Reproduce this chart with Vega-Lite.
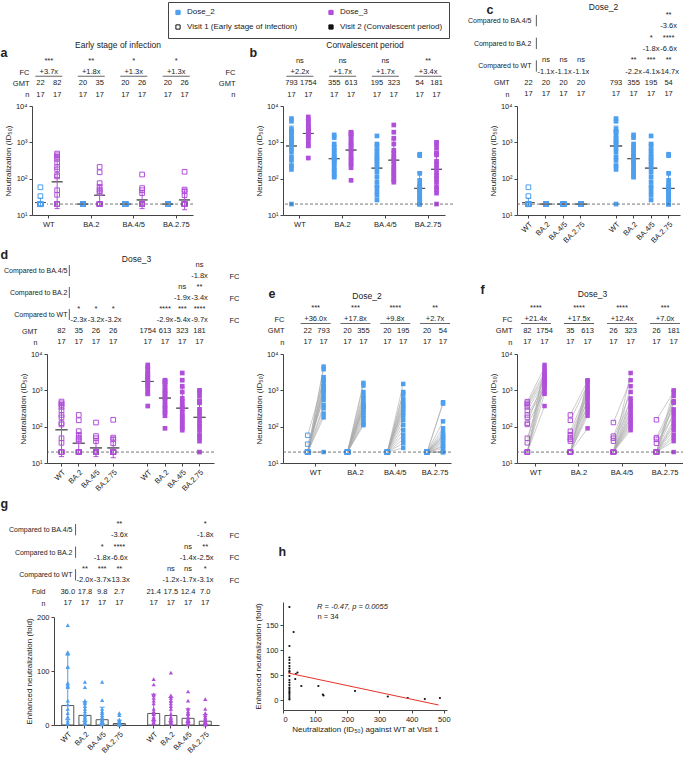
{
"$schema":"https://vega.github.io/schema/vega-lite/v6.json",
"background":"white",
"padding":{"left":0,"top":1,"right":0,"bottom":0},
"config":{
 "font":"Liberation Sans",
 "view":{"stroke":null},
 "axis":{"labelFontSize":7.5,"titleFontSize":8,"titleFontWeight":"normal","labelColor":"#222","titleColor":"#222","domainColor":"#444","tickColor":"#444","tickSize":3,"labelPadding":2,"titlePadding":3,"grid":false},
 "title":{"fontSize":8.5,"fontWeight":"normal","color":"#222"},
 "text":{"fontSize":7.5,"color":"#222"},
 "legend":{"labelFontSize":8,"labelColor":"#222"}
},
"datasets":{
"leg":[{"lg":"Dose_2"}],
"gmt":[
{"d":2,"v":1,"g":"WT","k":"1 WT","m":22,"lo":17,"hi":29},
{"d":2,"v":1,"g":"BA.2","k":"1 BA.2","m":20,"lo":20,"hi":20},
{"d":2,"v":1,"g":"BA.4/5","k":"1 BA.4/5","m":20,"lo":20,"hi":20},
{"d":2,"v":1,"g":"BA.2.75","k":"1 BA.2.75","m":20,"lo":20,"hi":20},
{"d":2,"v":2,"g":"WT","k":"2 WT","m":793,"lo":225,"hi":2800},
{"d":2,"v":2,"g":"BA.2","k":"2 BA.2","m":355,"lo":160,"hi":800},
{"d":2,"v":2,"g":"BA.4/5","k":"2 BA.4/5","m":195,"lo":60,"hi":630},
{"d":2,"v":2,"g":"BA.2.75","k":"2 BA.2.75","m":54,"lo":20,"hi":150},
{"d":3,"v":1,"g":"WT","k":"1 WT","m":82,"lo":15,"hi":450},
{"d":3,"v":1,"g":"BA.2","k":"1 BA.2","m":35,"lo":18,"hi":66},
{"d":3,"v":1,"g":"BA.4/5","k":"1 BA.4/5","m":26,"lo":15,"hi":48},
{"d":3,"v":1,"g":"BA.2.75","k":"1 BA.2.75","m":26,"lo":14,"hi":50},
{"d":3,"v":2,"g":"WT","k":"2 WT","m":1754,"lo":730,"hi":4200},
{"d":3,"v":2,"g":"BA.2","k":"2 BA.2","m":613,"lo":250,"hi":1500},
{"d":3,"v":2,"g":"BA.4/5","k":"2 BA.4/5","m":323,"lo":90,"hi":1170},
{"d":3,"v":2,"g":"BA.2.75","k":"2 BA.2.75","m":181,"lo":56,"hi":580}
],
"neut":[
{"d":2,"v":1,"g":"WT","k":"1 WT","i":1,"y":20},{"d":2,"v":1,"g":"WT","k":"1 WT","i":2,"y":20},{"d":2,"v":1,"g":"WT","k":"1 WT","i":3,"y":20},{"d":2,"v":1,"g":"WT","k":"1 WT","i":4,"y":20},{"d":2,"v":1,"g":"WT","k":"1 WT","i":5,"y":58},{"d":2,"v":1,"g":"WT","k":"1 WT","i":6,"y":20},{"d":2,"v":1,"g":"WT","k":"1 WT","i":7,"y":20},{"d":2,"v":1,"g":"WT","k":"1 WT","i":8,"y":20},{"d":2,"v":1,"g":"WT","k":"1 WT","i":9,"y":20},{"d":2,"v":1,"g":"WT","k":"1 WT","i":10,"y":20},{"d":2,"v":1,"g":"WT","k":"1 WT","i":11,"y":20},{"d":2,"v":1,"g":"WT","k":"1 WT","i":12,"y":33},{"d":2,"v":1,"g":"WT","k":"1 WT","i":13,"y":20},{"d":2,"v":1,"g":"WT","k":"1 WT","i":14,"y":20},{"d":2,"v":1,"g":"WT","k":"1 WT","i":15,"y":20},{"d":2,"v":1,"g":"WT","k":"1 WT","i":16,"y":20},{"d":2,"v":1,"g":"WT","k":"1 WT","i":17,"y":20},
{"d":2,"v":1,"g":"BA.2","k":"1 BA.2","i":1,"y":20},{"d":2,"v":1,"g":"BA.2","k":"1 BA.2","i":2,"y":20},{"d":2,"v":1,"g":"BA.2","k":"1 BA.2","i":3,"y":20},{"d":2,"v":1,"g":"BA.2","k":"1 BA.2","i":4,"y":20},{"d":2,"v":1,"g":"BA.2","k":"1 BA.2","i":5,"y":20},{"d":2,"v":1,"g":"BA.2","k":"1 BA.2","i":6,"y":20},{"d":2,"v":1,"g":"BA.2","k":"1 BA.2","i":7,"y":20},{"d":2,"v":1,"g":"BA.2","k":"1 BA.2","i":8,"y":20},{"d":2,"v":1,"g":"BA.2","k":"1 BA.2","i":9,"y":20},{"d":2,"v":1,"g":"BA.2","k":"1 BA.2","i":10,"y":20},{"d":2,"v":1,"g":"BA.2","k":"1 BA.2","i":11,"y":20},{"d":2,"v":1,"g":"BA.2","k":"1 BA.2","i":12,"y":20},{"d":2,"v":1,"g":"BA.2","k":"1 BA.2","i":13,"y":20},{"d":2,"v":1,"g":"BA.2","k":"1 BA.2","i":14,"y":20},{"d":2,"v":1,"g":"BA.2","k":"1 BA.2","i":15,"y":20},{"d":2,"v":1,"g":"BA.2","k":"1 BA.2","i":16,"y":20},{"d":2,"v":1,"g":"BA.2","k":"1 BA.2","i":17,"y":20},
{"d":2,"v":1,"g":"BA.4/5","k":"1 BA.4/5","i":1,"y":20},{"d":2,"v":1,"g":"BA.4/5","k":"1 BA.4/5","i":2,"y":20},{"d":2,"v":1,"g":"BA.4/5","k":"1 BA.4/5","i":3,"y":20},{"d":2,"v":1,"g":"BA.4/5","k":"1 BA.4/5","i":4,"y":20},{"d":2,"v":1,"g":"BA.4/5","k":"1 BA.4/5","i":5,"y":20},{"d":2,"v":1,"g":"BA.4/5","k":"1 BA.4/5","i":6,"y":20},{"d":2,"v":1,"g":"BA.4/5","k":"1 BA.4/5","i":7,"y":20},{"d":2,"v":1,"g":"BA.4/5","k":"1 BA.4/5","i":8,"y":20},{"d":2,"v":1,"g":"BA.4/5","k":"1 BA.4/5","i":9,"y":20},{"d":2,"v":1,"g":"BA.4/5","k":"1 BA.4/5","i":10,"y":20},{"d":2,"v":1,"g":"BA.4/5","k":"1 BA.4/5","i":11,"y":20},{"d":2,"v":1,"g":"BA.4/5","k":"1 BA.4/5","i":12,"y":20},{"d":2,"v":1,"g":"BA.4/5","k":"1 BA.4/5","i":13,"y":20},{"d":2,"v":1,"g":"BA.4/5","k":"1 BA.4/5","i":14,"y":20},{"d":2,"v":1,"g":"BA.4/5","k":"1 BA.4/5","i":15,"y":20},{"d":2,"v":1,"g":"BA.4/5","k":"1 BA.4/5","i":16,"y":20},{"d":2,"v":1,"g":"BA.4/5","k":"1 BA.4/5","i":17,"y":20},
{"d":2,"v":1,"g":"BA.2.75","k":"1 BA.2.75","i":1,"y":20},{"d":2,"v":1,"g":"BA.2.75","k":"1 BA.2.75","i":2,"y":20},{"d":2,"v":1,"g":"BA.2.75","k":"1 BA.2.75","i":3,"y":20},{"d":2,"v":1,"g":"BA.2.75","k":"1 BA.2.75","i":4,"y":20},{"d":2,"v":1,"g":"BA.2.75","k":"1 BA.2.75","i":5,"y":20},{"d":2,"v":1,"g":"BA.2.75","k":"1 BA.2.75","i":6,"y":20},{"d":2,"v":1,"g":"BA.2.75","k":"1 BA.2.75","i":7,"y":20},{"d":2,"v":1,"g":"BA.2.75","k":"1 BA.2.75","i":8,"y":20},{"d":2,"v":1,"g":"BA.2.75","k":"1 BA.2.75","i":9,"y":20},{"d":2,"v":1,"g":"BA.2.75","k":"1 BA.2.75","i":10,"y":20},{"d":2,"v":1,"g":"BA.2.75","k":"1 BA.2.75","i":11,"y":20},{"d":2,"v":1,"g":"BA.2.75","k":"1 BA.2.75","i":12,"y":20},{"d":2,"v":1,"g":"BA.2.75","k":"1 BA.2.75","i":13,"y":20},{"d":2,"v":1,"g":"BA.2.75","k":"1 BA.2.75","i":14,"y":20},{"d":2,"v":1,"g":"BA.2.75","k":"1 BA.2.75","i":15,"y":20},{"d":2,"v":1,"g":"BA.2.75","k":"1 BA.2.75","i":16,"y":20},{"d":2,"v":1,"g":"BA.2.75","k":"1 BA.2.75","i":17,"y":20},
{"d":2,"v":2,"g":"WT","k":"2 WT","i":1,"y":4500},{"d":2,"v":2,"g":"WT","k":"2 WT","i":2,"y":3800},{"d":2,"v":2,"g":"WT","k":"2 WT","i":3,"y":2300},{"d":2,"v":2,"g":"WT","k":"2 WT","i":4,"y":2000},{"d":2,"v":2,"g":"WT","k":"2 WT","i":5,"y":1900},{"d":2,"v":2,"g":"WT","k":"2 WT","i":6,"y":1500},{"d":2,"v":2,"g":"WT","k":"2 WT","i":7,"y":1300},{"d":2,"v":2,"g":"WT","k":"2 WT","i":8,"y":1100},{"d":2,"v":2,"g":"WT","k":"2 WT","i":9,"y":1000},{"d":2,"v":2,"g":"WT","k":"2 WT","i":10,"y":900},{"d":2,"v":2,"g":"WT","k":"2 WT","i":11,"y":700},{"d":2,"v":2,"g":"WT","k":"2 WT","i":12,"y":550},{"d":2,"v":2,"g":"WT","k":"2 WT","i":13,"y":400},{"d":2,"v":2,"g":"WT","k":"2 WT","i":14,"y":320},{"d":2,"v":2,"g":"WT","k":"2 WT","i":15,"y":230},{"d":2,"v":2,"g":"WT","k":"2 WT","i":16,"y":180},{"d":2,"v":2,"g":"WT","k":"2 WT","i":17,"y":20},
{"d":2,"v":2,"g":"BA.2","k":"2 BA.2","i":1,"y":1600},{"d":2,"v":2,"g":"BA.2","k":"2 BA.2","i":2,"y":1350},{"d":2,"v":2,"g":"BA.2","k":"2 BA.2","i":3,"y":900},{"d":2,"v":2,"g":"BA.2","k":"2 BA.2","i":4,"y":700},{"d":2,"v":2,"g":"BA.2","k":"2 BA.2","i":5,"y":600},{"d":2,"v":2,"g":"BA.2","k":"2 BA.2","i":6,"y":500},{"d":2,"v":2,"g":"BA.2","k":"2 BA.2","i":7,"y":420},{"d":2,"v":2,"g":"BA.2","k":"2 BA.2","i":8,"y":380},{"d":2,"v":2,"g":"BA.2","k":"2 BA.2","i":9,"y":350},{"d":2,"v":2,"g":"BA.2","k":"2 BA.2","i":10,"y":320},{"d":2,"v":2,"g":"BA.2","k":"2 BA.2","i":11,"y":280},{"d":2,"v":2,"g":"BA.2","k":"2 BA.2","i":12,"y":240},{"d":2,"v":2,"g":"BA.2","k":"2 BA.2","i":13,"y":200},{"d":2,"v":2,"g":"BA.2","k":"2 BA.2","i":14,"y":170},{"d":2,"v":2,"g":"BA.2","k":"2 BA.2","i":15,"y":140},{"d":2,"v":2,"g":"BA.2","k":"2 BA.2","i":16,"y":120},{"d":2,"v":2,"g":"BA.2","k":"2 BA.2","i":17,"y":110},
{"d":2,"v":2,"g":"BA.4/5","k":"2 BA.4/5","i":1,"y":1500},{"d":2,"v":2,"g":"BA.4/5","k":"2 BA.4/5","i":2,"y":900},{"d":2,"v":2,"g":"BA.4/5","k":"2 BA.4/5","i":3,"y":800},{"d":2,"v":2,"g":"BA.4/5","k":"2 BA.4/5","i":4,"y":600},{"d":2,"v":2,"g":"BA.4/5","k":"2 BA.4/5","i":5,"y":480},{"d":2,"v":2,"g":"BA.4/5","k":"2 BA.4/5","i":6,"y":400},{"d":2,"v":2,"g":"BA.4/5","k":"2 BA.4/5","i":7,"y":350},{"d":2,"v":2,"g":"BA.4/5","k":"2 BA.4/5","i":8,"y":300},{"d":2,"v":2,"g":"BA.4/5","k":"2 BA.4/5","i":9,"y":250},{"d":2,"v":2,"g":"BA.4/5","k":"2 BA.4/5","i":10,"y":200},{"d":2,"v":2,"g":"BA.4/5","k":"2 BA.4/5","i":11,"y":150},{"d":2,"v":2,"g":"BA.4/5","k":"2 BA.4/5","i":12,"y":110},{"d":2,"v":2,"g":"BA.4/5","k":"2 BA.4/5","i":13,"y":80},{"d":2,"v":2,"g":"BA.4/5","k":"2 BA.4/5","i":14,"y":60},{"d":2,"v":2,"g":"BA.4/5","k":"2 BA.4/5","i":15,"y":45},{"d":2,"v":2,"g":"BA.4/5","k":"2 BA.4/5","i":16,"y":35},{"d":2,"v":2,"g":"BA.4/5","k":"2 BA.4/5","i":17,"y":26},
{"d":2,"v":2,"g":"BA.2.75","k":"2 BA.2.75","i":1,"y":470},{"d":2,"v":2,"g":"BA.2.75","k":"2 BA.2.75","i":2,"y":430},{"d":2,"v":2,"g":"BA.2.75","k":"2 BA.2.75","i":3,"y":140},{"d":2,"v":2,"g":"BA.2.75","k":"2 BA.2.75","i":4,"y":90},{"d":2,"v":2,"g":"BA.2.75","k":"2 BA.2.75","i":5,"y":70},{"d":2,"v":2,"g":"BA.2.75","k":"2 BA.2.75","i":6,"y":60},{"d":2,"v":2,"g":"BA.2.75","k":"2 BA.2.75","i":7,"y":55},{"d":2,"v":2,"g":"BA.2.75","k":"2 BA.2.75","i":8,"y":50},{"d":2,"v":2,"g":"BA.2.75","k":"2 BA.2.75","i":9,"y":45},{"d":2,"v":2,"g":"BA.2.75","k":"2 BA.2.75","i":10,"y":40},{"d":2,"v":2,"g":"BA.2.75","k":"2 BA.2.75","i":11,"y":35},{"d":2,"v":2,"g":"BA.2.75","k":"2 BA.2.75","i":12,"y":30},{"d":2,"v":2,"g":"BA.2.75","k":"2 BA.2.75","i":13,"y":28},{"d":2,"v":2,"g":"BA.2.75","k":"2 BA.2.75","i":14,"y":25},{"d":2,"v":2,"g":"BA.2.75","k":"2 BA.2.75","i":15,"y":20},{"d":2,"v":2,"g":"BA.2.75","k":"2 BA.2.75","i":16,"y":20},{"d":2,"v":2,"g":"BA.2.75","k":"2 BA.2.75","i":17,"y":20},
{"d":3,"v":1,"g":"WT","k":"1 WT","i":1,"y":20},{"d":3,"v":1,"g":"WT","k":"1 WT","i":2,"y":490},{"d":3,"v":1,"g":"WT","k":"1 WT","i":3,"y":36},{"d":3,"v":1,"g":"WT","k":"1 WT","i":4,"y":440},{"d":3,"v":1,"g":"WT","k":"1 WT","i":5,"y":20},{"d":3,"v":1,"g":"WT","k":"1 WT","i":6,"y":400},{"d":3,"v":1,"g":"WT","k":"1 WT","i":7,"y":125},{"d":3,"v":1,"g":"WT","k":"1 WT","i":8,"y":350},{"d":3,"v":1,"g":"WT","k":"1 WT","i":9,"y":20},{"d":3,"v":1,"g":"WT","k":"1 WT","i":10,"y":280},{"d":3,"v":1,"g":"WT","k":"1 WT","i":11,"y":48},{"d":3,"v":1,"g":"WT","k":"1 WT","i":12,"y":210},{"d":3,"v":1,"g":"WT","k":"1 WT","i":13,"y":20},{"d":3,"v":1,"g":"WT","k":"1 WT","i":14,"y":180},{"d":3,"v":1,"g":"WT","k":"1 WT","i":15,"y":115},{"d":3,"v":1,"g":"WT","k":"1 WT","i":16,"y":20},{"d":3,"v":1,"g":"WT","k":"1 WT","i":17,"y":20},
{"d":3,"v":1,"g":"BA.2","k":"1 BA.2","i":1,"y":20},{"d":3,"v":1,"g":"BA.2","k":"1 BA.2","i":2,"y":210},{"d":3,"v":1,"g":"BA.2","k":"1 BA.2","i":3,"y":20},{"d":3,"v":1,"g":"BA.2","k":"1 BA.2","i":4,"y":150},{"d":3,"v":1,"g":"BA.2","k":"1 BA.2","i":5,"y":20},{"d":3,"v":1,"g":"BA.2","k":"1 BA.2","i":6,"y":75},{"d":3,"v":1,"g":"BA.2","k":"1 BA.2","i":7,"y":20},{"d":3,"v":1,"g":"BA.2","k":"1 BA.2","i":8,"y":60},{"d":3,"v":1,"g":"BA.2","k":"1 BA.2","i":9,"y":50},{"d":3,"v":1,"g":"BA.2","k":"1 BA.2","i":10,"y":20},{"d":3,"v":1,"g":"BA.2","k":"1 BA.2","i":11,"y":45},{"d":3,"v":1,"g":"BA.2","k":"1 BA.2","i":12,"y":20},{"d":3,"v":1,"g":"BA.2","k":"1 BA.2","i":13,"y":40},{"d":3,"v":1,"g":"BA.2","k":"1 BA.2","i":14,"y":20},{"d":3,"v":1,"g":"BA.2","k":"1 BA.2","i":15,"y":20},{"d":3,"v":1,"g":"BA.2","k":"1 BA.2","i":16,"y":20},{"d":3,"v":1,"g":"BA.2","k":"1 BA.2","i":17,"y":20},
{"d":3,"v":1,"g":"BA.4/5","k":"1 BA.4/5","i":1,"y":20},{"d":3,"v":1,"g":"BA.4/5","k":"1 BA.4/5","i":2,"y":130},{"d":3,"v":1,"g":"BA.4/5","k":"1 BA.4/5","i":3,"y":20},{"d":3,"v":1,"g":"BA.4/5","k":"1 BA.4/5","i":4,"y":55},{"d":3,"v":1,"g":"BA.4/5","k":"1 BA.4/5","i":5,"y":20},{"d":3,"v":1,"g":"BA.4/5","k":"1 BA.4/5","i":6,"y":48},{"d":3,"v":1,"g":"BA.4/5","k":"1 BA.4/5","i":7,"y":20},{"d":3,"v":1,"g":"BA.4/5","k":"1 BA.4/5","i":8,"y":40},{"d":3,"v":1,"g":"BA.4/5","k":"1 BA.4/5","i":9,"y":20},{"d":3,"v":1,"g":"BA.4/5","k":"1 BA.4/5","i":10,"y":20},{"d":3,"v":1,"g":"BA.4/5","k":"1 BA.4/5","i":11,"y":20},{"d":3,"v":1,"g":"BA.4/5","k":"1 BA.4/5","i":12,"y":20},{"d":3,"v":1,"g":"BA.4/5","k":"1 BA.4/5","i":13,"y":20},{"d":3,"v":1,"g":"BA.4/5","k":"1 BA.4/5","i":14,"y":20},{"d":3,"v":1,"g":"BA.4/5","k":"1 BA.4/5","i":15,"y":20},{"d":3,"v":1,"g":"BA.4/5","k":"1 BA.4/5","i":16,"y":20},{"d":3,"v":1,"g":"BA.4/5","k":"1 BA.4/5","i":17,"y":20},
{"d":3,"v":1,"g":"BA.2.75","k":"1 BA.2.75","i":1,"y":20},{"d":3,"v":1,"g":"BA.2.75","k":"1 BA.2.75","i":2,"y":155},{"d":3,"v":1,"g":"BA.2.75","k":"1 BA.2.75","i":3,"y":20},{"d":3,"v":1,"g":"BA.2.75","k":"1 BA.2.75","i":4,"y":50},{"d":3,"v":1,"g":"BA.2.75","k":"1 BA.2.75","i":5,"y":20},{"d":3,"v":1,"g":"BA.2.75","k":"1 BA.2.75","i":6,"y":20},{"d":3,"v":1,"g":"BA.2.75","k":"1 BA.2.75","i":7,"y":45},{"d":3,"v":1,"g":"BA.2.75","k":"1 BA.2.75","i":8,"y":20},{"d":3,"v":1,"g":"BA.2.75","k":"1 BA.2.75","i":9,"y":35},{"d":3,"v":1,"g":"BA.2.75","k":"1 BA.2.75","i":10,"y":20},{"d":3,"v":1,"g":"BA.2.75","k":"1 BA.2.75","i":11,"y":20},{"d":3,"v":1,"g":"BA.2.75","k":"1 BA.2.75","i":12,"y":20},{"d":3,"v":1,"g":"BA.2.75","k":"1 BA.2.75","i":13,"y":20},{"d":3,"v":1,"g":"BA.2.75","k":"1 BA.2.75","i":14,"y":20},{"d":3,"v":1,"g":"BA.2.75","k":"1 BA.2.75","i":15,"y":20},{"d":3,"v":1,"g":"BA.2.75","k":"1 BA.2.75","i":16,"y":20},{"d":3,"v":1,"g":"BA.2.75","k":"1 BA.2.75","i":17,"y":20},
{"d":3,"v":2,"g":"WT","k":"2 WT","i":1,"y":5000},{"d":3,"v":2,"g":"WT","k":"2 WT","i":2,"y":4200},{"d":3,"v":2,"g":"WT","k":"2 WT","i":3,"y":3600},{"d":3,"v":2,"g":"WT","k":"2 WT","i":4,"y":3000},{"d":3,"v":2,"g":"WT","k":"2 WT","i":5,"y":2800},{"d":3,"v":2,"g":"WT","k":"2 WT","i":6,"y":2500},{"d":3,"v":2,"g":"WT","k":"2 WT","i":7,"y":2300},{"d":3,"v":2,"g":"WT","k":"2 WT","i":8,"y":2100},{"d":3,"v":2,"g":"WT","k":"2 WT","i":9,"y":1900},{"d":3,"v":2,"g":"WT","k":"2 WT","i":10,"y":1800},{"d":3,"v":2,"g":"WT","k":"2 WT","i":11,"y":1600},{"d":3,"v":2,"g":"WT","k":"2 WT","i":12,"y":1400},{"d":3,"v":2,"g":"WT","k":"2 WT","i":13,"y":1300},{"d":3,"v":2,"g":"WT","k":"2 WT","i":14,"y":1100},{"d":3,"v":2,"g":"WT","k":"2 WT","i":15,"y":900},{"d":3,"v":2,"g":"WT","k":"2 WT","i":16,"y":800},{"d":3,"v":2,"g":"WT","k":"2 WT","i":17,"y":370},
{"d":3,"v":2,"g":"BA.2","k":"2 BA.2","i":1,"y":1900},{"d":3,"v":2,"g":"BA.2","k":"2 BA.2","i":2,"y":1800},{"d":3,"v":2,"g":"BA.2","k":"2 BA.2","i":3,"y":1700},{"d":3,"v":2,"g":"BA.2","k":"2 BA.2","i":4,"y":1400},{"d":3,"v":2,"g":"BA.2","k":"2 BA.2","i":5,"y":1200},{"d":3,"v":2,"g":"BA.2","k":"2 BA.2","i":6,"y":1000},{"d":3,"v":2,"g":"BA.2","k":"2 BA.2","i":7,"y":900},{"d":3,"v":2,"g":"BA.2","k":"2 BA.2","i":8,"y":800},{"d":3,"v":2,"g":"BA.2","k":"2 BA.2","i":9,"y":700},{"d":3,"v":2,"g":"BA.2","k":"2 BA.2","i":10,"y":600},{"d":3,"v":2,"g":"BA.2","k":"2 BA.2","i":11,"y":500},{"d":3,"v":2,"g":"BA.2","k":"2 BA.2","i":12,"y":400},{"d":3,"v":2,"g":"BA.2","k":"2 BA.2","i":13,"y":350},{"d":3,"v":2,"g":"BA.2","k":"2 BA.2","i":14,"y":300},{"d":3,"v":2,"g":"BA.2","k":"2 BA.2","i":15,"y":250},{"d":3,"v":2,"g":"BA.2","k":"2 BA.2","i":16,"y":200},{"d":3,"v":2,"g":"BA.2","k":"2 BA.2","i":17,"y":90},
{"d":3,"v":2,"g":"BA.4/5","k":"2 BA.4/5","i":1,"y":3000},{"d":3,"v":2,"g":"BA.4/5","k":"2 BA.4/5","i":2,"y":1900},{"d":3,"v":2,"g":"BA.4/5","k":"2 BA.4/5","i":3,"y":1300},{"d":3,"v":2,"g":"BA.4/5","k":"2 BA.4/5","i":4,"y":900},{"d":3,"v":2,"g":"BA.4/5","k":"2 BA.4/5","i":5,"y":600},{"d":3,"v":2,"g":"BA.4/5","k":"2 BA.4/5","i":6,"y":500},{"d":3,"v":2,"g":"BA.4/5","k":"2 BA.4/5","i":7,"y":400},{"d":3,"v":2,"g":"BA.4/5","k":"2 BA.4/5","i":8,"y":350},{"d":3,"v":2,"g":"BA.4/5","k":"2 BA.4/5","i":9,"y":300},{"d":3,"v":2,"g":"BA.4/5","k":"2 BA.4/5","i":10,"y":250},{"d":3,"v":2,"g":"BA.4/5","k":"2 BA.4/5","i":11,"y":200},{"d":3,"v":2,"g":"BA.4/5","k":"2 BA.4/5","i":12,"y":180},{"d":3,"v":2,"g":"BA.4/5","k":"2 BA.4/5","i":13,"y":150},{"d":3,"v":2,"g":"BA.4/5","k":"2 BA.4/5","i":14,"y":130},{"d":3,"v":2,"g":"BA.4/5","k":"2 BA.4/5","i":15,"y":110},{"d":3,"v":2,"g":"BA.4/5","k":"2 BA.4/5","i":16,"y":95},{"d":3,"v":2,"g":"BA.4/5","k":"2 BA.4/5","i":17,"y":80},
{"d":3,"v":2,"g":"BA.2.75","k":"2 BA.2.75","i":1,"y":1000},{"d":3,"v":2,"g":"BA.2.75","k":"2 BA.2.75","i":2,"y":900},{"d":3,"v":2,"g":"BA.2.75","k":"2 BA.2.75","i":3,"y":700},{"d":3,"v":2,"g":"BA.2.75","k":"2 BA.2.75","i":4,"y":500},{"d":3,"v":2,"g":"BA.2.75","k":"2 BA.2.75","i":5,"y":480},{"d":3,"v":2,"g":"BA.2.75","k":"2 BA.2.75","i":6,"y":450},{"d":3,"v":2,"g":"BA.2.75","k":"2 BA.2.75","i":7,"y":300},{"d":3,"v":2,"g":"BA.2.75","k":"2 BA.2.75","i":8,"y":250},{"d":3,"v":2,"g":"BA.2.75","k":"2 BA.2.75","i":9,"y":200},{"d":3,"v":2,"g":"BA.2.75","k":"2 BA.2.75","i":10,"y":150},{"d":3,"v":2,"g":"BA.2.75","k":"2 BA.2.75","i":11,"y":120},{"d":3,"v":2,"g":"BA.2.75","k":"2 BA.2.75","i":12,"y":100},{"d":3,"v":2,"g":"BA.2.75","k":"2 BA.2.75","i":13,"y":80},{"d":3,"v":2,"g":"BA.2.75","k":"2 BA.2.75","i":14,"y":60},{"d":3,"v":2,"g":"BA.2.75","k":"2 BA.2.75","i":15,"y":50},{"d":3,"v":2,"g":"BA.2.75","k":"2 BA.2.75","i":16,"y":40},{"d":3,"v":2,"g":"BA.2.75","k":"2 BA.2.75","i":17,"y":20}
],
"ann":[
{"p":"a","g":"WT","r":"s","t":"***"},{"p":"a","g":"BA.2","r":"s","t":"**"},{"p":"a","g":"BA.4/5","r":"s","t":"*"},{"p":"a","g":"BA.2.75","r":"s","t":"*"},
{"p":"a","g":"WT","r":"FC","t":"+3.7x"},{"p":"a","g":"BA.2","r":"FC","t":"+1.8x"},{"p":"a","g":"BA.4/5","r":"FC","t":"+1.3x"},{"p":"a","g":"BA.2.75","r":"FC","t":"+1.3x"},
{"p":"b","g":"WT","r":"s","t":"ns"},{"p":"b","g":"BA.2","r":"s","t":"ns"},{"p":"b","g":"BA.4/5","r":"s","t":"ns"},{"p":"b","g":"BA.2.75","r":"s","t":"**"},
{"p":"b","g":"WT","r":"FC","t":"+2.2x"},{"p":"b","g":"BA.2","r":"FC","t":"+1.7x"},{"p":"b","g":"BA.4/5","r":"FC","t":"+1.7x"},{"p":"b","g":"BA.2.75","r":"FC","t":"+3.4x"},
{"p":"e","g":"WT","r":"s","t":"***"},{"p":"e","g":"BA.2","r":"s","t":"***"},{"p":"e","g":"BA.4/5","r":"s","t":"****"},{"p":"e","g":"BA.2.75","r":"s","t":"**"},
{"p":"e","g":"WT","r":"FC","t":"+36.0x"},{"p":"e","g":"BA.2","r":"FC","t":"+17.8x"},{"p":"e","g":"BA.4/5","r":"FC","t":"+9.8x"},{"p":"e","g":"BA.2.75","r":"FC","t":"+2.7x"},
{"p":"f","g":"WT","r":"s","t":"****"},{"p":"f","g":"BA.2","r":"s","t":"****"},{"p":"f","g":"BA.4/5","r":"s","t":"****"},{"p":"f","g":"BA.2.75","r":"s","t":"***"},
{"p":"f","g":"WT","r":"FC","t":"+21.4x"},{"p":"f","g":"BA.2","r":"FC","t":"+17.5x"},{"p":"f","g":"BA.4/5","r":"FC","t":"+12.4x"},{"p":"f","g":"BA.2.75","r":"FC","t":"+7.0x"},
{"p":"c","k":"2 BA.2.75","r":"s45","t":"**"},{"p":"c","k":"2 BA.2.75","r":"f45","t":"-3.6x"},
{"p":"c","k":"2 BA.4/5","r":"s2","t":"*"},{"p":"c","k":"2 BA.4/5","r":"f2","t":"-1.8x"},
{"p":"c","k":"2 BA.2.75","r":"s2","t":"****"},{"p":"c","k":"2 BA.2.75","r":"f2","t":"-6.6x"},
{"p":"c","k":"1 BA.2","r":"sW","t":"ns"},{"p":"c","k":"1 BA.2","r":"fW","t":"-1.1x"},
{"p":"c","k":"1 BA.4/5","r":"sW","t":"ns"},{"p":"c","k":"1 BA.4/5","r":"fW","t":"-1.1x"},
{"p":"c","k":"1 BA.2.75","r":"sW","t":"ns"},{"p":"c","k":"1 BA.2.75","r":"fW","t":"-1.1x"},
{"p":"c","k":"2 BA.2","r":"sW","t":"**"},{"p":"c","k":"2 BA.2","r":"fW","t":"-2.2x"},
{"p":"c","k":"2 BA.4/5","r":"sW","t":"***"},{"p":"c","k":"2 BA.4/5","r":"fW","t":"-4.1x"},
{"p":"c","k":"2 BA.2.75","r":"sW","t":"**"},{"p":"c","k":"2 BA.2.75","r":"fW","t":"-14.7x"},
{"p":"d","k":"2 BA.2.75","r":"s45","t":"ns"},{"p":"d","k":"2 BA.2.75","r":"f45","t":"-1.8x"},
{"p":"d","k":"2 BA.4/5","r":"s2","t":"ns"},{"p":"d","k":"2 BA.4/5","r":"f2","t":"-1.9x"},
{"p":"d","k":"2 BA.2.75","r":"s2","t":"**"},{"p":"d","k":"2 BA.2.75","r":"f2","t":"-3.4x"},
{"p":"d","k":"1 BA.2","r":"sW","t":"*"},{"p":"d","k":"1 BA.2","r":"fW","t":"-2.3x"},
{"p":"d","k":"1 BA.4/5","r":"sW","t":"*"},{"p":"d","k":"1 BA.4/5","r":"fW","t":"-3.2x"},
{"p":"d","k":"1 BA.2.75","r":"sW","t":"*"},{"p":"d","k":"1 BA.2.75","r":"fW","t":"-3.2x"},
{"p":"d","k":"2 BA.2","r":"sW","t":"****"},{"p":"d","k":"2 BA.2","r":"fW","t":"-2.9x"},
{"p":"d","k":"2 BA.4/5","r":"sW","t":"***"},{"p":"d","k":"2 BA.4/5","r":"fW","t":"-5.4x"},
{"p":"d","k":"2 BA.2.75","r":"sW","t":"****"},{"p":"d","k":"2 BA.2.75","r":"fW","t":"-9.7x"},
{"p":"g","k":"2 BA.2.75","r":"s45","t":"**"},{"p":"g","k":"2 BA.2.75","r":"f45","t":"-3.6x"},
{"p":"g","k":"3 BA.2.75","r":"s45","t":"*"},{"p":"g","k":"3 BA.2.75","r":"f45","t":"-1.8x"},
{"p":"g","k":"2 BA.4/5","r":"s2","t":"*"},{"p":"g","k":"2 BA.4/5","r":"f2","t":"-1.8x"},
{"p":"g","k":"2 BA.2.75","r":"s2","t":"****"},{"p":"g","k":"2 BA.2.75","r":"f2","t":"-6.6x"},
{"p":"g","k":"3 BA.4/5","r":"s2","t":"ns"},{"p":"g","k":"3 BA.4/5","r":"f2","t":"-1.4x"},
{"p":"g","k":"3 BA.2.75","r":"s2","t":"**"},{"p":"g","k":"3 BA.2.75","r":"f2","t":"-2.5x"},
{"p":"g","k":"2 BA.2","r":"sW","t":"**"},{"p":"g","k":"2 BA.2","r":"fW","t":"-2.0x"},
{"p":"g","k":"2 BA.4/5","r":"sW","t":"***"},{"p":"g","k":"2 BA.4/5","r":"fW","t":"-3.7x"},
{"p":"g","k":"2 BA.2.75","r":"sW","t":"**"},{"p":"g","k":"2 BA.2.75","r":"fW","t":"-13.3x"},
{"p":"g","k":"3 BA.2","r":"sW","t":"ns"},{"p":"g","k":"3 BA.2","r":"fW","t":"-1.2x"},
{"p":"g","k":"3 BA.4/5","r":"sW","t":"ns"},{"p":"g","k":"3 BA.4/5","r":"fW","t":"-1.7x"},
{"p":"g","k":"3 BA.2.75","r":"sW","t":"*"},{"p":"g","k":"3 BA.2.75","r":"fW","t":"-3.1x"}
],
"vb":[
{"p":"c","k":"1 WT","r1":"s45","r2":"f45"},{"p":"c","k":"1 WT","r1":"s2","r2":"f2"},{"p":"c","k":"1 WT","r1":"sW","r2":"fW"},
{"p":"d","k":"1 WT","r1":"s45","r2":"f45"},{"p":"d","k":"1 WT","r1":"s2","r2":"f2"},{"p":"d","k":"1 WT","r1":"sW","r2":"fW"},
{"p":"g","k":"2 WT","r1":"s45","r2":"f45"},{"p":"g","k":"2 WT","r1":"s2","r2":"f2"},{"p":"g","k":"2 WT","r1":"sW","r2":"fW"}
],
"foldsum":[
{"d":2,"k":"2 WT","f":36.0,"lo":10,"hi":130},
{"d":2,"k":"2 BA.2","f":17.8,"lo":7,"hi":43},
{"d":2,"k":"2 BA.4/5","f":9.8,"lo":3,"hi":33},
{"d":2,"k":"2 BA.2.75","f":2.7,"lo":1,"hi":9},
{"d":3,"k":"3 WT","f":21.4,"lo":8,"hi":57},
{"d":3,"k":"3 BA.2","f":17.5,"lo":6,"hi":51},
{"d":3,"k":"3 BA.4/5","f":12.4,"lo":5,"hi":30},
{"d":3,"k":"3 BA.2.75","f":7.0,"lo":2,"hi":19}
],
"fold":[
{"d":2,"k":"2 WT","f":185},{"d":2,"k":"2 WT","f":135},{"d":2,"k":"2 WT","f":132},{"d":2,"k":"2 WT","f":108},{"d":2,"k":"2 WT","f":107},{"d":2,"k":"2 WT","f":78},{"d":2,"k":"2 WT","f":75},{"d":2,"k":"2 WT","f":72},{"d":2,"k":"2 WT","f":70},{"d":2,"k":"2 WT","f":45},{"d":2,"k":"2 WT","f":38},{"d":2,"k":"2 WT","f":30},{"d":2,"k":"2 WT","f":22},{"d":2,"k":"2 WT","f":15},{"d":2,"k":"2 WT","f":8},{"d":2,"k":"2 WT","f":4},{"d":2,"k":"2 WT","f":2},
{"d":2,"k":"2 BA.2","f":80},{"d":2,"k":"2 BA.2","f":70},{"d":2,"k":"2 BA.2","f":45},{"d":2,"k":"2 BA.2","f":42},{"d":2,"k":"2 BA.2","f":40},{"d":2,"k":"2 BA.2","f":35},{"d":2,"k":"2 BA.2","f":30},{"d":2,"k":"2 BA.2","f":25},{"d":2,"k":"2 BA.2","f":20},{"d":2,"k":"2 BA.2","f":18},{"d":2,"k":"2 BA.2","f":15},{"d":2,"k":"2 BA.2","f":13},{"d":2,"k":"2 BA.2","f":10},{"d":2,"k":"2 BA.2","f":8},{"d":2,"k":"2 BA.2","f":5},{"d":2,"k":"2 BA.2","f":3},{"d":2,"k":"2 BA.2","f":2},
{"d":2,"k":"2 BA.4/5","f":80},{"d":2,"k":"2 BA.4/5","f":46},{"d":2,"k":"2 BA.4/5","f":30},{"d":2,"k":"2 BA.4/5","f":25},{"d":2,"k":"2 BA.4/5","f":22},{"d":2,"k":"2 BA.4/5","f":18},{"d":2,"k":"2 BA.4/5","f":15},{"d":2,"k":"2 BA.4/5","f":12},{"d":2,"k":"2 BA.4/5","f":10},{"d":2,"k":"2 BA.4/5","f":9},{"d":2,"k":"2 BA.4/5","f":8},{"d":2,"k":"2 BA.4/5","f":6},{"d":2,"k":"2 BA.4/5","f":5},{"d":2,"k":"2 BA.4/5","f":4},{"d":2,"k":"2 BA.4/5","f":3},{"d":2,"k":"2 BA.4/5","f":2},{"d":2,"k":"2 BA.4/5","f":1},
{"d":2,"k":"2 BA.2.75","f":22},{"d":2,"k":"2 BA.2.75","f":18},{"d":2,"k":"2 BA.2.75","f":10},{"d":2,"k":"2 BA.2.75","f":8},{"d":2,"k":"2 BA.2.75","f":6},{"d":2,"k":"2 BA.2.75","f":5},{"d":2,"k":"2 BA.2.75","f":4},{"d":2,"k":"2 BA.2.75","f":3},{"d":2,"k":"2 BA.2.75","f":3},{"d":2,"k":"2 BA.2.75","f":2},{"d":2,"k":"2 BA.2.75","f":2},{"d":2,"k":"2 BA.2.75","f":1.5},{"d":2,"k":"2 BA.2.75","f":1},{"d":2,"k":"2 BA.2.75","f":1},{"d":2,"k":"2 BA.2.75","f":1},{"d":2,"k":"2 BA.2.75","f":1},{"d":2,"k":"2 BA.2.75","f":1},
{"d":3,"k":"3 WT","f":85},{"d":3,"k":"3 WT","f":75},{"d":3,"k":"3 WT","f":57},{"d":3,"k":"3 WT","f":55},{"d":3,"k":"3 WT","f":50},{"d":3,"k":"3 WT","f":45},{"d":3,"k":"3 WT","f":40},{"d":3,"k":"3 WT","f":30},{"d":3,"k":"3 WT","f":25},{"d":3,"k":"3 WT","f":22},{"d":3,"k":"3 WT","f":20},{"d":3,"k":"3 WT","f":15},{"d":3,"k":"3 WT","f":12},{"d":3,"k":"3 WT","f":10},{"d":3,"k":"3 WT","f":8},{"d":3,"k":"3 WT","f":5},{"d":3,"k":"3 WT","f":3},
{"d":3,"k":"3 BA.2","f":97},{"d":3,"k":"3 BA.2","f":55},{"d":3,"k":"3 BA.2","f":50},{"d":3,"k":"3 BA.2","f":45},{"d":3,"k":"3 BA.2","f":45},{"d":3,"k":"3 BA.2","f":40},{"d":3,"k":"3 BA.2","f":35},{"d":3,"k":"3 BA.2","f":30},{"d":3,"k":"3 BA.2","f":20},{"d":3,"k":"3 BA.2","f":15},{"d":3,"k":"3 BA.2","f":12},{"d":3,"k":"3 BA.2","f":10},{"d":3,"k":"3 BA.2","f":8},{"d":3,"k":"3 BA.2","f":6},{"d":3,"k":"3 BA.2","f":5},{"d":3,"k":"3 BA.2","f":3},{"d":3,"k":"3 BA.2","f":2},
{"d":3,"k":"3 BA.4/5","f":62},{"d":3,"k":"3 BA.4/5","f":45},{"d":3,"k":"3 BA.4/5","f":30},{"d":3,"k":"3 BA.4/5","f":25},{"d":3,"k":"3 BA.4/5","f":22},{"d":3,"k":"3 BA.4/5","f":20},{"d":3,"k":"3 BA.4/5","f":15},{"d":3,"k":"3 BA.4/5","f":12},{"d":3,"k":"3 BA.4/5","f":10},{"d":3,"k":"3 BA.4/5","f":9},{"d":3,"k":"3 BA.4/5","f":8},{"d":3,"k":"3 BA.4/5","f":7},{"d":3,"k":"3 BA.4/5","f":5},{"d":3,"k":"3 BA.4/5","f":4},{"d":3,"k":"3 BA.4/5","f":3},{"d":3,"k":"3 BA.4/5","f":2},{"d":3,"k":"3 BA.4/5","f":1},
{"d":3,"k":"3 BA.2.75","f":48},{"d":3,"k":"3 BA.2.75","f":30},{"d":3,"k":"3 BA.2.75","f":22},{"d":3,"k":"3 BA.2.75","f":18},{"d":3,"k":"3 BA.2.75","f":15},{"d":3,"k":"3 BA.2.75","f":12},{"d":3,"k":"3 BA.2.75","f":10},{"d":3,"k":"3 BA.2.75","f":8},{"d":3,"k":"3 BA.2.75","f":6},{"d":3,"k":"3 BA.2.75","f":5},{"d":3,"k":"3 BA.2.75","f":4},{"d":3,"k":"3 BA.2.75","f":3},{"d":3,"k":"3 BA.2.75","f":2},{"d":3,"k":"3 BA.2.75","f":2},{"d":3,"k":"3 BA.2.75","f":1},{"d":3,"k":"3 BA.2.75","f":1},{"d":3,"k":"3 BA.2.75","f":1}
],
"corr":[
{"x":20,"y":186},{"x":20,"y":108},{"x":20,"y":85},{"x":20,"y":80},{"x":20,"y":74},{"x":20,"y":68},{"x":20,"y":63},{"x":20,"y":58},{"x":20,"y":56},{"x":20,"y":48},{"x":20,"y":40},{"x":20,"y":35},{"x":20,"y":30},{"x":20,"y":25},{"x":20,"y":22},{"x":20,"y":18},{"x":20,"y":15},{"x":20,"y":12},{"x":20,"y":8},{"x":20,"y":4},{"x":20,"y":1},
{"x":33,"y":136},{"x":38,"y":42},{"x":40,"y":52},{"x":45,"y":55},{"x":57,"y":28},{"x":110,"y":28},{"x":124,"y":11},{"x":126,"y":9},{"x":224,"y":18},{"x":326,"y":7},{"x":388,"y":4},{"x":441,"y":2},{"x":488,"y":4}
],
"reg":[{"x":16,"y":54},{"x":484,"y":-10}]
},
"concat":[
{"width":146,"height":109,
 "title":{"text":"Early stage of infection","frame":"group","offset":-10,"baseline":"alphabetic","dx":-2},
 "resolve":{"scale":{"y":"independent"}},
 "layer":[
 {"layer":[
  {"data":{"name":"gmt"},"transform":[{"filter":"datum.v===1"}],"mark":{"type":"bar","fill":"white","stroke":"#555","strokeWidth":1},
   "encoding":{"x":{"field":"g","type":"nominal","scale":{"domain":["WT","BA.2","BA.4/5","BA.2.75"],"range":[-15,146],"paddingInner":0.35,"paddingOuter":0.07},"axis":{"title":null,"labelAngle":0}},
    "xOffset":{"field":"d","type":"nominal","scale":{"type":"band","domain":[2,3],"paddingInner":0.35,"paddingOuter":0}},
    "y":{"field":"m","type":"quantitative","scale":{"type":"log","domain":[10,10000],"nice":false},"axis":{"offset":15,"values":[10,100,1000,10000],"labelExpr":"datum.value==10?'10¹':datum.value==100?'10²':datum.value==1000?'10³':'10⁴'","title":"Neutralization (ID₅₀)"}}}},
  {"data":{"name":"gmt"},"transform":[{"filter":"datum.v===1 && datum.hi>datum.lo"}],"mark":{"type":"rule","strokeWidth":1},
   "encoding":{"x":{"field":"g","type":"nominal"},"xOffset":{"field":"d","type":"nominal"},"y":{"field":"lo","type":"quantitative"},"y2":{"field":"hi"},"color":{"field":"d","type":"nominal","scale":{"domain":[2,3],"range":["#4D9FEF","#B04FD9"]},"legend":null}}},
  {"data":{"name":"gmt"},"transform":[{"filter":"datum.v===1 && datum.hi>datum.lo"}],"mark":{"type":"tick","orient":"horizontal","size":5,"thickness":1,"opacity":1},
   "encoding":{"x":{"field":"g","type":"nominal"},"xOffset":{"field":"d","type":"nominal"},"y":{"field":"hi","type":"quantitative"},"color":{"field":"d","type":"nominal","legend":null}}},
  {"data":{"name":"gmt"},"transform":[{"filter":"datum.v===1 && datum.hi>datum.lo"}],"mark":{"type":"tick","orient":"horizontal","size":5,"thickness":1,"opacity":1},
   "encoding":{"x":{"field":"g","type":"nominal"},"xOffset":{"field":"d","type":"nominal"},"y":{"field":"lo","type":"quantitative"},"color":{"field":"d","type":"nominal","legend":null}}},
  {"data":{"name":"neut"},"transform":[{"filter":"datum.v===1"}],"mark":{"type":"point","shape":"square","filled":false,"size":22,"strokeWidth":1,"opacity":1},
   "encoding":{"x":{"field":"g","type":"nominal"},"xOffset":{"field":"d","type":"nominal"},"y":{"field":"y","type":"quantitative"},"color":{"field":"d","type":"nominal","legend":null}}},
  {"data":{"values":[{}]},"mark":{"type":"rule","strokeDash":[3,2],"color":"#555","strokeWidth":0.8},"encoding":{"y":{"datum":20,"type":"quantitative"}}},
  {"data":{"name":"leg"},"transform":[{"filter":"false"}],"mark":{"type":"square","opacity":1,"strokeWidth":1},
   "encoding":{
    "fill":{"field":"lg","type":"nominal","scale":{"domain":["Dose_2","Visit 1 (Early stage of infection)","Dose_3","Visit 2 (Convalescent period)"],"range":["#4D9FEF","white","#B04FD9","#111"]},"legend":{"orient":"none","legendX":121,"legendY":-104,"columns":2,"title":null,"symbolType":"square","symbolSize":18,"symbolStrokeWidth":1,"labelFontSize":8,"labelOffset":5,"strokeColor":"#444","padding":6,"rowPadding":5,"columnPadding":28,"labelLimit":300}},
    "stroke":{"field":"lg","type":"nominal","scale":{"domain":["Dose_2","Visit 1 (Early stage of infection)","Dose_3","Visit 2 (Convalescent period)"],"range":["#4D9FEF","#111","#B04FD9","#111"]},"legend":{"orient":"none","legendX":121,"legendY":-104,"columns":2,"title":null,"symbolType":"square","symbolSize":18,"symbolStrokeWidth":1,"labelFontSize":8,"labelOffset":5,"strokeColor":"#444","padding":6,"rowPadding":5,"columnPadding":28,"labelLimit":300}}}}
 ]},
 {"layer":[
  {"data":{"name":"ann"},"transform":[{"filter":"datum.p==='a'"}],"mark":{"type":"text","fontSize":7.5},
   "encoding":{"x":{"field":"g","type":"nominal"},
    "y":{"field":"r","type":"nominal","scale":{"type":"point","domain":["s","FC","GMT","n"],"range":[-45,-11.5],"padding":0},
     "axis":{"orient":"left","offset":15,"domain":false,"ticks":false,"labelOverlap":false,"labelExpr":"datum.value==='s'?'':datum.value","labelAlign":"right","labelPadding":3,"title":"a","titleAngle":0,"titleX":-32,"titleY":-50,"titleFontSize":12.5,"titleFontWeight":"bold","titleAlign":"left","titleBaseline":"alphabetic"}},
    "text":{"field":"t","type":"nominal"}}},
  {"data":{"name":"ann"},"transform":[{"filter":"datum.p==='a' && datum.r==='FC'"}],"mark":{"type":"tick","orient":"horizontal","size":27,"thickness":0.7,"yOffset":4,"color":"#222","opacity":1},
   "encoding":{"x":{"field":"g","type":"nominal"},"y":{"field":"r","type":"nominal"}}},
  {"data":{"name":"gmt"},"transform":[{"filter":"datum.v===1"}],"mark":{"type":"text","fontSize":7.5},
   "encoding":{"x":{"field":"g","type":"nominal"},"xOffset":{"field":"d","type":"nominal"},"y":{"datum":"GMT","type":"nominal"},"text":{"field":"m","type":"nominal"}}},
  {"data":{"name":"gmt"},"transform":[{"filter":"datum.v===1"}],"mark":{"type":"text","fontSize":7.5},
   "encoding":{"x":{"field":"g","type":"nominal"},"xOffset":{"field":"d","type":"nominal"},"y":{"datum":"n","type":"nominal"},"text":{"value":"17"}}}
 ]}
 ]},
{"width":170,"height":109,
 "title":{"text":"Convalescent period","frame":"group","offset":-10,"baseline":"alphabetic","dx":-3},
 "resolve":{"scale":{"y":"independent"}},
 "layer":[
 {"layer":[
  {"data":{"name":"gmt"},"transform":[{"filter":"datum.v===2"}],"mark":{"type":"bar","fill":"white","stroke":"#555","strokeWidth":1},
   "encoding":{"x":{"field":"g","type":"nominal","scale":{"domain":["WT","BA.2","BA.4/5","BA.2.75"],"range":[0,162],"paddingInner":0.35,"paddingOuter":0.07},"axis":{"title":null,"labelAngle":0}},
    "xOffset":{"field":"d","type":"nominal","scale":{"type":"band","domain":[2,3],"paddingInner":0.35,"paddingOuter":0}},
    "y":{"field":"m","type":"quantitative","scale":{"type":"log","domain":[10,10000],"nice":false},"axis":{"values":[10,100,1000,10000],"labelExpr":"datum.value==10?'10¹':datum.value==100?'10²':datum.value==1000?'10³':'10⁴'","title":"Neutralization (ID₅₀)"}}}},
  {"data":{"name":"gmt"},"transform":[{"filter":"datum.v===2 && datum.hi>datum.lo"}],"mark":{"type":"rule","strokeWidth":1},
   "encoding":{"x":{"field":"g","type":"nominal"},"xOffset":{"field":"d","type":"nominal"},"y":{"field":"lo","type":"quantitative"},"y2":{"field":"hi"},"color":{"field":"d","type":"nominal","scale":{"domain":[2,3],"range":["#4D9FEF","#B04FD9"]},"legend":null}}},
  {"data":{"name":"gmt"},"transform":[{"filter":"datum.v===2 && datum.hi>datum.lo"}],"mark":{"type":"tick","orient":"horizontal","size":5,"thickness":1,"opacity":1},
   "encoding":{"x":{"field":"g","type":"nominal"},"xOffset":{"field":"d","type":"nominal"},"y":{"field":"hi","type":"quantitative"},"color":{"field":"d","type":"nominal","legend":null}}},
  {"data":{"name":"gmt"},"transform":[{"filter":"datum.v===2 && datum.hi>datum.lo"}],"mark":{"type":"tick","orient":"horizontal","size":5,"thickness":1,"opacity":1},
   "encoding":{"x":{"field":"g","type":"nominal"},"xOffset":{"field":"d","type":"nominal"},"y":{"field":"lo","type":"quantitative"},"color":{"field":"d","type":"nominal","legend":null}}},
  {"data":{"name":"neut"},"transform":[{"filter":"datum.v===2"}],"mark":{"type":"point","shape":"square","filled":true,"size":22,"opacity":1},
   "encoding":{"x":{"field":"g","type":"nominal"},"xOffset":{"field":"d","type":"nominal"},"y":{"field":"y","type":"quantitative"},"color":{"field":"d","type":"nominal","legend":null}}},
  {"data":{"values":[{}]},"mark":{"type":"rule","strokeDash":[3,2],"color":"#555","strokeWidth":0.8},"encoding":{"y":{"datum":20,"type":"quantitative"}}}
 ]},
 {"layer":[
  {"data":{"name":"ann"},"transform":[{"filter":"datum.p==='b'"}],"mark":{"type":"text","fontSize":7.5},
   "encoding":{"x":{"field":"g","type":"nominal"},
    "y":{"field":"r","type":"nominal","scale":{"type":"point","domain":["s","FC","GMT","n"],"range":[-45,-11.5],"padding":0},
     "axis":{"orient":"left","domain":false,"ticks":false,"labelOverlap":false,"labelExpr":"datum.value==='s'?'':datum.value","labelAlign":"right","labelPadding":48,"title":"b","titleAngle":0,"titleX":-34,"titleY":-50,"titleFontSize":12.5,"titleFontWeight":"bold","titleAlign":"left","titleBaseline":"alphabetic"}},
    "text":{"field":"t","type":"nominal"}}},
  {"data":{"name":"ann"},"transform":[{"filter":"datum.p==='b' && datum.r==='FC'"}],"mark":{"type":"tick","orient":"horizontal","size":27,"thickness":0.7,"yOffset":4,"color":"#222","opacity":1},
   "encoding":{"x":{"field":"g","type":"nominal"},"y":{"field":"r","type":"nominal"}}},
  {"data":{"name":"gmt"},"transform":[{"filter":"datum.v===2"}],"mark":{"type":"text","fontSize":7.5},
   "encoding":{"x":{"field":"g","type":"nominal"},"xOffset":{"field":"d","type":"nominal"},"y":{"datum":"GMT","type":"nominal"},"text":{"field":"m","type":"nominal"}}},
  {"data":{"name":"gmt"},"transform":[{"filter":"datum.v===2"}],"mark":{"type":"text","fontSize":7.5},
   "encoding":{"x":{"field":"g","type":"nominal"},"xOffset":{"field":"d","type":"nominal"},"y":{"datum":"n","type":"nominal"},"text":{"value":"17"}}}
 ]}
 ]},
{"width":163,"height":109,
 "title":{"text":"Dose_2","frame":"group","offset":-15,"baseline":"alphabetic","dx":5},
 "resolve":{"scale":{"y":"independent"}},
 "layer":[
 {"layer":[
  {"data":{"name":"gmt"},"transform":[{"filter":"datum.d===2"}],"mark":{"type":"bar","fill":"white","stroke":"#555","strokeWidth":1},
   "encoding":{"x":{"field":"k","type":"nominal","scale":{"domain":["1 WT","1 BA.2","1 BA.4/5","1 BA.2.75","gap","2 WT","2 BA.2","2 BA.4/5","2 BA.2.75"],"paddingInner":0.3,"paddingOuter":0.3},"axis":{"title":null,"labelAngle":-45,"labelExpr":"datum.value==='gap'?'':slice(datum.value,2)","tickColor":{"condition":{"test":"datum.value==='gap'","value":"transparent"},"value":"#444"}}},
    "y":{"field":"m","type":"quantitative","scale":{"type":"log","domain":[10,10000],"nice":false},"axis":{"values":[10,100,1000,10000],"labelExpr":"datum.value==10?'10¹':datum.value==100?'10²':datum.value==1000?'10³':'10⁴'","title":"Neutralization (ID₅₀)"}}}},
  {"data":{"name":"gmt"},"transform":[{"filter":"datum.d===2 && datum.hi>datum.lo"}],"mark":{"type":"rule","strokeWidth":1},
   "encoding":{"x":{"field":"k","type":"nominal"},"y":{"field":"lo","type":"quantitative"},"y2":{"field":"hi"},"color":{"field":"d","type":"nominal","scale":{"domain":[2,3],"range":["#4D9FEF","#B04FD9"]},"legend":null}}},
  {"data":{"name":"gmt"},"transform":[{"filter":"datum.d===2 && datum.hi>datum.lo"}],"mark":{"type":"tick","orient":"horizontal","size":5,"thickness":1,"opacity":1},
   "encoding":{"x":{"field":"k","type":"nominal"},"y":{"field":"hi","type":"quantitative"},"color":{"field":"d","type":"nominal","legend":null}}},
  {"data":{"name":"gmt"},"transform":[{"filter":"datum.d===2 && datum.hi>datum.lo"}],"mark":{"type":"tick","orient":"horizontal","size":5,"thickness":1,"opacity":1},
   "encoding":{"x":{"field":"k","type":"nominal"},"y":{"field":"lo","type":"quantitative"},"color":{"field":"d","type":"nominal","legend":null}}},
  {"data":{"name":"neut"},"transform":[{"filter":"datum.d===2 && datum.v===1"}],"mark":{"type":"point","shape":"square","filled":false,"size":22,"strokeWidth":1,"opacity":1},
   "encoding":{"x":{"field":"k","type":"nominal"},"y":{"field":"y","type":"quantitative"},"color":{"field":"d","type":"nominal","legend":null}}},
  {"data":{"name":"neut"},"transform":[{"filter":"datum.d===2 && datum.v===2"}],"mark":{"type":"point","shape":"square","filled":true,"size":22,"opacity":1},
   "encoding":{"x":{"field":"k","type":"nominal"},"y":{"field":"y","type":"quantitative"},"color":{"field":"d","type":"nominal","legend":null}}},
  {"data":{"values":[{}]},"mark":{"type":"rule","strokeDash":[3,2],"color":"#555","strokeWidth":0.8},"encoding":{"y":{"datum":20,"type":"quantitative"}}}
 ]},
 {"layer":[
  {"data":{"name":"ann"},"transform":[{"filter":"datum.p==='c'"}],"mark":{"type":"text","fontSize":7.5},
   "encoding":{"x":{"field":"k","type":"nominal"},
    "y":{"field":"r","type":"nominal","scale":{"type":"point","domain":["s45","f45","s2","f2","sW","fW","GMT","n"],"range":[-91,-11.7],"padding":0},
     "axis":{"orient":"left","domain":false,"ticks":false,"labelOverlap":false,"labelFontSize":7,
      "labelPadding":{"condition":{"test":"datum.value==='GMT'||datum.value==='n'","value":8},"value":-14},
      "labelOffset":{"condition":{"test":"indexof(datum.value,'f')===0","value":-5.7},"value":0},
      "labelExpr":"datum.value==='f45'?'Compared to BA.4/5':datum.value==='f2'?'Compared to BA.2':datum.value==='fW'?'Compared to WT':datum.value==='GMT'?'GMT':datum.value==='n'?'n':''",
      "title":"c","titleAngle":0,"titleX":-31,"titleY":-93,"titleFontSize":12.5,"titleFontWeight":"bold","titleAlign":"left","titleBaseline":"alphabetic"}},
    "text":{"field":"t","type":"nominal"}}},
  {"data":{"name":"gmt"},"transform":[{"filter":"datum.d===2"}],"mark":{"type":"text","fontSize":7.5},
   "encoding":{"x":{"field":"k","type":"nominal"},"y":{"datum":"GMT","type":"nominal"},"text":{"field":"m","type":"nominal"}}},
  {"data":{"name":"gmt"},"transform":[{"filter":"datum.d===2"}],"mark":{"type":"text","fontSize":7.5},
   "encoding":{"x":{"field":"k","type":"nominal"},"y":{"datum":"n","type":"nominal"},"text":{"value":"17"}}}
 ]},
 {"layer":[
  {"data":{"name":"vb"},"transform":[{"filter":"datum.p==='c'"}],"mark":{"type":"rule","color":"#333","strokeWidth":0.8},
   "encoding":{"x":{"field":"k","type":"nominal","bandPosition":1.15},
    "y":{"field":"r1","type":"nominal","scale":{"type":"point","domain":["s45","f45","s2","f2","sW","fW","GMT","n"],"range":[-91,-11.7],"padding":0},
     "axis":{"orient":"right","domain":false,"ticks":false,"labelOverlap":false,"labelExpr":"indexof(datum.value,'f')===0?'FC':''","labelPadding":3,"title":null}},
    "y2":{"field":"r2"}}}
 ]}
 ]},
{"width":167,"height":109,
 "title":{"text":"Dose_3","frame":"group","offset":-22,"baseline":"alphabetic","dx":6},
 "resolve":{"scale":{"y":"independent"}},
 "layer":[
 {"layer":[
  {"data":{"name":"gmt"},"transform":[{"filter":"datum.d===3"}],"mark":{"type":"bar","fill":"white","stroke":"#555","strokeWidth":1},
   "encoding":{"x":{"field":"k","type":"nominal","scale":{"domain":["1 WT","1 BA.2","1 BA.4/5","1 BA.2.75","gap","2 WT","2 BA.2","2 BA.4/5","2 BA.2.75"],"paddingInner":0.3,"paddingOuter":0.49},"axis":{"title":null,"labelAngle":-45,"labelExpr":"datum.value==='gap'?'':slice(datum.value,2)","tickColor":{"condition":{"test":"datum.value==='gap'","value":"transparent"},"value":"#444"}}},
    "y":{"field":"m","type":"quantitative","scale":{"type":"log","domain":[10,10000],"nice":false},"axis":{"values":[10,100,1000,10000],"labelExpr":"datum.value==10?'10¹':datum.value==100?'10²':datum.value==1000?'10³':'10⁴'","title":"Neutralization (ID₅₀)"}}}},
  {"data":{"name":"gmt"},"transform":[{"filter":"datum.d===3 && datum.hi>datum.lo"}],"mark":{"type":"rule","strokeWidth":1},
   "encoding":{"x":{"field":"k","type":"nominal"},"y":{"field":"lo","type":"quantitative"},"y2":{"field":"hi"},"color":{"field":"d","type":"nominal","scale":{"domain":[2,3],"range":["#4D9FEF","#B04FD9"]},"legend":null}}},
  {"data":{"name":"gmt"},"transform":[{"filter":"datum.d===3 && datum.hi>datum.lo"}],"mark":{"type":"tick","orient":"horizontal","size":5,"thickness":1,"opacity":1},
   "encoding":{"x":{"field":"k","type":"nominal"},"y":{"field":"hi","type":"quantitative"},"color":{"field":"d","type":"nominal","legend":null}}},
  {"data":{"name":"gmt"},"transform":[{"filter":"datum.d===3 && datum.hi>datum.lo"}],"mark":{"type":"tick","orient":"horizontal","size":5,"thickness":1,"opacity":1},
   "encoding":{"x":{"field":"k","type":"nominal"},"y":{"field":"lo","type":"quantitative"},"color":{"field":"d","type":"nominal","legend":null}}},
  {"data":{"name":"neut"},"transform":[{"filter":"datum.d===3 && datum.v===1"}],"mark":{"type":"point","shape":"square","filled":false,"size":22,"strokeWidth":1,"opacity":1},
   "encoding":{"x":{"field":"k","type":"nominal"},"y":{"field":"y","type":"quantitative"},"color":{"field":"d","type":"nominal","legend":null}}},
  {"data":{"name":"neut"},"transform":[{"filter":"datum.d===3 && datum.v===2"}],"mark":{"type":"point","shape":"square","filled":true,"size":22,"opacity":1},
   "encoding":{"x":{"field":"k","type":"nominal"},"y":{"field":"y","type":"quantitative"},"color":{"field":"d","type":"nominal","legend":null}}},
  {"data":{"values":[{}]},"mark":{"type":"rule","strokeDash":[3,2],"color":"#555","strokeWidth":0.8},"encoding":{"y":{"datum":20,"type":"quantitative"}}}
 ]},
 {"layer":[
  {"data":{"name":"ann"},"transform":[{"filter":"datum.p==='d'"}],"mark":{"type":"text","fontSize":7.5},
   "encoding":{"x":{"field":"k","type":"nominal"},
    "y":{"field":"r","type":"nominal","scale":{"type":"point","domain":["s45","f45","s2","f2","sW","fW","GMT","n"],"range":[-89,-12],"padding":0},
     "axis":{"orient":"left","domain":false,"ticks":false,"labelOverlap":false,"labelFontSize":7,
      "labelPadding":{"condition":{"test":"datum.value==='GMT'||datum.value==='n'","value":10},"value":-20},
      "labelOffset":{"condition":{"test":"indexof(datum.value,'f')===0","value":-5.5},"value":0},
      "labelExpr":"datum.value==='f45'?'Compared to BA.4/5':datum.value==='f2'?'Compared to BA.2':datum.value==='fW'?'Compared to WT':datum.value==='GMT'?'GMT':datum.value==='n'?'n':''",
      "title":"d","titleAngle":0,"titleX":-47,"titleY":-96,"titleFontSize":12.5,"titleFontWeight":"bold","titleAlign":"left","titleBaseline":"alphabetic"}},
    "text":{"field":"t","type":"nominal"}}},
  {"data":{"name":"gmt"},"transform":[{"filter":"datum.d===3"}],"mark":{"type":"text","fontSize":7.5},
   "encoding":{"x":{"field":"k","type":"nominal"},"y":{"datum":"GMT","type":"nominal"},"text":{"field":"m","type":"nominal"}}},
  {"data":{"name":"gmt"},"transform":[{"filter":"datum.d===3"}],"mark":{"type":"text","fontSize":7.5},
   "encoding":{"x":{"field":"k","type":"nominal"},"y":{"datum":"n","type":"nominal"},"text":{"value":"17"}}}
 ]},
 {"layer":[
  {"data":{"name":"vb"},"transform":[{"filter":"datum.p==='d'"}],"mark":{"type":"rule","color":"#333","strokeWidth":0.8},
   "encoding":{"x":{"field":"k","type":"nominal","bandPosition":1.15},
    "y":{"field":"r1","type":"nominal","scale":{"type":"point","domain":["s45","f45","s2","f2","sW","fW","GMT","n"],"range":[-89,-12],"padding":0},
     "axis":{"orient":"right","domain":false,"ticks":false,"labelOverlap":false,"labelExpr":"indexof(datum.value,'f')===0?'FC':''","labelPadding":15,"title":null}},
    "y2":{"field":"r2"}}}
 ]}
 ]},
{"width":168,"height":109,
 "title":{"text":"Dose_2","frame":"group","offset":-20,"baseline":"alphabetic"},
 "resolve":{"scale":{"y":"independent"}},
 "layer":[
 {"layer":[
  {"data":{"name":"neut"},"transform":[{"filter":"datum.d===2"}],"mark":{"type":"line","color":"#aaaaaa","strokeWidth":0.6},
   "encoding":{"x":{"field":"g","type":"nominal","scale":{"domain":["WT","BA.2","BA.4/5","BA.2.75"],"paddingInner":0.2,"paddingOuter":0.21,"align":1},"axis":{"title":null,"labelAngle":0}},
    "xOffset":{"field":"v","type":"nominal","scale":{"type":"band","domain":[1,2],"paddingInner":0,"paddingOuter":0}},
    "y":{"field":"y","type":"quantitative","scale":{"type":"log","domain":[10,10000],"nice":false},"axis":{"values":[10,100,1000,10000],"labelExpr":"datum.value==10?'10¹':datum.value==100?'10²':datum.value==1000?'10³':'10⁴'","title":"Neutralization (ID₅₀)"}},
    "detail":[{"field":"i","type":"nominal"},{"field":"g","type":"nominal"}]}},
  {"data":{"name":"neut"},"transform":[{"filter":"datum.d===2 && datum.v===1"}],"mark":{"type":"point","shape":"square","filled":false,"size":20,"strokeWidth":1,"opacity":1},
   "encoding":{"x":{"field":"g","type":"nominal"},"xOffset":{"field":"v","type":"nominal"},"y":{"field":"y","type":"quantitative"},"color":{"field":"d","type":"nominal","scale":{"domain":[2,3],"range":["#4D9FEF","#B04FD9"]},"legend":null}}},
  {"data":{"name":"neut"},"transform":[{"filter":"datum.d===2 && datum.v===2"}],"mark":{"type":"point","shape":"square","filled":true,"size":20,"opacity":1},
   "encoding":{"x":{"field":"g","type":"nominal"},"xOffset":{"field":"v","type":"nominal"},"y":{"field":"y","type":"quantitative"},"color":{"field":"d","type":"nominal","legend":null}}},
  {"data":{"values":[{}]},"mark":{"type":"rule","strokeDash":[3,2],"color":"#555","strokeWidth":0.8},"encoding":{"y":{"datum":20,"type":"quantitative"}}}
 ]},
 {"layer":[
  {"data":{"name":"ann"},"transform":[{"filter":"datum.p==='e'"}],"mark":{"type":"text","fontSize":7.5},
   "encoding":{"x":{"field":"g","type":"nominal"},
    "y":{"field":"r","type":"nominal","scale":{"type":"point","domain":["s","FC","GMT","n"],"range":[-46,-12],"padding":0},
     "axis":{"orient":"left","domain":false,"ticks":false,"labelOverlap":false,"labelExpr":"datum.value==='s'?'':datum.value","labelPadding":-1,"title":"e","titleAngle":0,"titleX":-15,"titleY":-57,"titleFontSize":12.5,"titleFontWeight":"bold","titleAlign":"left","titleBaseline":"alphabetic"}},
    "text":{"field":"t","type":"nominal"}}},
  {"data":{"name":"ann"},"transform":[{"filter":"datum.p==='e' && datum.r==='FC'"}],"mark":{"type":"tick","orient":"horizontal","size":30,"thickness":0.7,"yOffset":4,"color":"#222","opacity":1},
   "encoding":{"x":{"field":"g","type":"nominal"},"y":{"field":"r","type":"nominal"}}},
  {"data":{"name":"gmt"},"transform":[{"filter":"datum.d===2"}],"mark":{"type":"text","fontSize":7.5},
   "encoding":{"x":{"field":"g","type":"nominal"},"xOffset":{"field":"v","type":"nominal"},"y":{"datum":"GMT","type":"nominal"},"text":{"field":"m","type":"nominal"}}},
  {"data":{"name":"gmt"},"transform":[{"filter":"datum.d===2"}],"mark":{"type":"text","fontSize":7.5},
   "encoding":{"x":{"field":"g","type":"nominal"},"xOffset":{"field":"v","type":"nominal"},"y":{"datum":"n","type":"nominal"},"text":{"value":"17"}}}
 ]}
 ]},
{"width":167,"height":109,
 "title":{"text":"Dose_3","frame":"group","offset":-22,"baseline":"alphabetic","dx":-8},
 "resolve":{"scale":{"y":"independent"}},
 "layer":[
 {"layer":[
  {"data":{"name":"neut"},"transform":[{"filter":"datum.d===3"}],"mark":{"type":"line","color":"#aaaaaa","strokeWidth":0.6},
   "encoding":{"x":{"field":"g","type":"nominal","scale":{"domain":["WT","BA.2","BA.4/5","BA.2.75"],"paddingInner":0.2,"paddingOuter":0.04,"align":0.5},"axis":{"title":null,"labelAngle":0}},
    "xOffset":{"field":"v","type":"nominal","scale":{"type":"band","domain":[1,2],"paddingInner":0,"paddingOuter":0}},
    "y":{"field":"y","type":"quantitative","scale":{"type":"log","domain":[10,10000],"nice":false},"axis":{"values":[10,100,1000,10000],"labelExpr":"datum.value==10?'10¹':datum.value==100?'10²':datum.value==1000?'10³':'10⁴'","title":"Neutralization (ID₅₀)"}},
    "detail":[{"field":"i","type":"nominal"},{"field":"g","type":"nominal"}]}},
  {"data":{"name":"neut"},"transform":[{"filter":"datum.d===3 && datum.v===1"}],"mark":{"type":"point","shape":"square","filled":false,"size":20,"strokeWidth":1,"opacity":1},
   "encoding":{"x":{"field":"g","type":"nominal"},"xOffset":{"field":"v","type":"nominal"},"y":{"field":"y","type":"quantitative"},"color":{"field":"d","type":"nominal","scale":{"domain":[2,3],"range":["#4D9FEF","#B04FD9"]},"legend":null}}},
  {"data":{"name":"neut"},"transform":[{"filter":"datum.d===3 && datum.v===2"}],"mark":{"type":"point","shape":"square","filled":true,"size":20,"opacity":1},
   "encoding":{"x":{"field":"g","type":"nominal"},"xOffset":{"field":"v","type":"nominal"},"y":{"field":"y","type":"quantitative"},"color":{"field":"d","type":"nominal","legend":null}}},
  {"data":{"values":[{}]},"mark":{"type":"rule","strokeDash":[3,2],"color":"#555","strokeWidth":0.8},"encoding":{"y":{"datum":20,"type":"quantitative"}}}
 ]},
 {"layer":[
  {"data":{"name":"ann"},"transform":[{"filter":"datum.p==='f'"}],"mark":{"type":"text","fontSize":7.5},
   "encoding":{"x":{"field":"g","type":"nominal"},
    "y":{"field":"r","type":"nominal","scale":{"type":"point","domain":["s","FC","GMT","n"],"range":[-46,-12],"padding":0},
     "axis":{"orient":"left","domain":false,"ticks":false,"labelOverlap":false,"labelExpr":"datum.value==='s'?'':datum.value","labelPadding":5,"title":"f","titleAngle":0,"titleX":-37,"titleY":-61,"titleFontSize":12.5,"titleFontWeight":"bold","titleAlign":"left","titleBaseline":"alphabetic"}},
    "text":{"field":"t","type":"nominal"}}},
  {"data":{"name":"ann"},"transform":[{"filter":"datum.p==='f' && datum.r==='FC'"}],"mark":{"type":"tick","orient":"horizontal","size":30,"thickness":0.7,"yOffset":4,"color":"#222","opacity":1},
   "encoding":{"x":{"field":"g","type":"nominal"},"y":{"field":"r","type":"nominal"}}},
  {"data":{"name":"gmt"},"transform":[{"filter":"datum.d===3"}],"mark":{"type":"text","fontSize":7.5},
   "encoding":{"x":{"field":"g","type":"nominal"},"xOffset":{"field":"v","type":"nominal"},"y":{"datum":"GMT","type":"nominal"},"text":{"field":"m","type":"nominal"}}},
  {"data":{"name":"gmt"},"transform":[{"filter":"datum.d===3"}],"mark":{"type":"text","fontSize":7.5},
   "encoding":{"x":{"field":"g","type":"nominal"},"xOffset":{"field":"v","type":"nominal"},"y":{"datum":"n","type":"nominal"},"text":{"value":"17"}}}
 ]}
 ]},
{"width":172,"height":123,
 "resolve":{"scale":{"y":"independent"}},
 "layer":[
 {"layer":[
  {"data":{"name":"foldsum"},"mark":{"type":"bar","fill":"white","stroke":"#555","strokeWidth":1},
   "encoding":{"x":{"field":"k","type":"nominal","scale":{"domain":["2 WT","2 BA.2","2 BA.4/5","2 BA.2.75","gap","3 WT","3 BA.2","3 BA.4/5","3 BA.2.75"],"range":[7,172],"paddingInner":0.3,"paddingOuter":0.45},"axis":{"title":null,"labelAngle":-45,"labelExpr":"datum.value==='gap'?'':slice(datum.value,2)","tickColor":{"condition":{"test":"datum.value==='gap'","value":"transparent"},"value":"#444"}}},
    "y":{"field":"f","type":"quantitative","scale":{"domain":[0,200],"range":[123,15],"nice":false},"axis":{"offset":-7,"values":[0,50,100,150,200],"title":"Enhanced neutralization (fold)"}}}},
  {"data":{"name":"foldsum"},"mark":{"type":"rule","strokeWidth":1},
   "encoding":{"x":{"field":"k","type":"nominal"},"y":{"field":"lo","type":"quantitative"},"y2":{"field":"hi"},"color":{"field":"d","type":"nominal","scale":{"domain":[2,3],"range":["#4D9FEF","#B04FD9"]},"legend":null}}},
  {"data":{"name":"foldsum"},"mark":{"type":"tick","orient":"horizontal","size":5,"thickness":1,"opacity":1},
   "encoding":{"x":{"field":"k","type":"nominal"},"y":{"field":"hi","type":"quantitative"},"color":{"field":"d","type":"nominal","legend":null}}},
  {"data":{"name":"foldsum"},"mark":{"type":"tick","orient":"horizontal","size":5,"thickness":1,"opacity":1},
   "encoding":{"x":{"field":"k","type":"nominal"},"y":{"field":"lo","type":"quantitative"},"color":{"field":"d","type":"nominal","legend":null}}},
  {"data":{"name":"fold"},"mark":{"type":"point","shape":"triangle-up","filled":true,"size":18,"opacity":1},
   "encoding":{"x":{"field":"k","type":"nominal"},"y":{"field":"f","type":"quantitative"},"color":{"field":"d","type":"nominal","legend":null}}}
 ]},
 {"layer":[
  {"data":{"name":"ann"},"transform":[{"filter":"datum.p==='g'"}],"mark":{"type":"text","fontSize":7.5},
   "encoding":{"x":{"field":"k","type":"nominal"},
    "y":{"field":"r","type":"nominal","scale":{"type":"point","domain":["s45","f45","s2","f2","sW","fW","Fold","n"],"range":[-78,1],"padding":0},
     "axis":{"orient":"left","offset":-7,"domain":false,"ticks":false,"labelOverlap":false,"labelFontSize":7,
      "labelPadding":{"condition":{"test":"datum.value==='Fold'||datum.value==='n'","value":9},"value":-18},
      "labelOffset":{"condition":{"test":"indexof(datum.value,'f')===0","value":-5.6},"value":0},
      "labelExpr":"datum.value==='f45'?'Compared to BA.4/5':datum.value==='f2'?'Compared to BA.2':datum.value==='fW'?'Compared to WT':datum.value==='Fold'?'Fold':datum.value==='n'?'n':''",
      "title":"g","titleAngle":0,"titleX":-54,"titleY":-95,"titleFontSize":12.5,"titleFontWeight":"bold","titleAlign":"left","titleBaseline":"alphabetic"}},
    "text":{"field":"t","type":"nominal"}}},
  {"data":{"name":"foldsum"},"mark":{"type":"text","fontSize":7.5},
   "encoding":{"x":{"field":"k","type":"nominal"},"y":{"datum":"Fold","type":"nominal"},"text":{"field":"f","type":"quantitative","format":".1f"}}},
  {"data":{"name":"foldsum"},"mark":{"type":"text","fontSize":7.5},
   "encoding":{"x":{"field":"k","type":"nominal"},"y":{"datum":"n","type":"nominal"},"text":{"value":"17"}}}
 ]},
 {"layer":[
  {"data":{"name":"vb"},"transform":[{"filter":"datum.p==='g'"}],"mark":{"type":"rule","color":"#333","strokeWidth":0.8},
   "encoding":{"x":{"field":"k","type":"nominal","bandPosition":1.15},
    "y":{"field":"r1","type":"nominal","scale":{"type":"point","domain":["s45","f45","s2","f2","sW","fW","Fold","n"],"range":[-78,1],"padding":0},
     "axis":{"orient":"right","domain":false,"ticks":false,"labelOverlap":false,"labelExpr":"indexof(datum.value,'f')===0?'FC':''","labelPadding":10,"title":null}},
    "y2":{"field":"r2"}}}
 ]}
 ]},
{"width":164,"height":108,
 "title":{"text":"R = -0.47, p = 0.0055","frame":"group","anchor":"start","offset":-71,"dx":34,"baseline":"alphabetic","fontSize":7.5,"fontStyle":"italic"},
 "resolve":{"scale":{"x":"independent","y":"independent"}},
 "layer":[
  {"data":{"name":"corr"},"mark":{"type":"circle","size":5,"color":"#111","opacity":1},
   "encoding":{"x":{"field":"x","type":"quantitative","scale":{"domain":[0,510],"nice":false,"zero":false},"axis":{"values":[0,100,200,300,400,500],"title":"Neutralization (ID₅₀) against WT at Visit 1"}},
    "y":{"field":"y","type":"quantitative","scale":{"domain":[-20,196],"nice":false,"zero":false},"axis":{"values":[0,50,100,150],"title":"Enhanced neutralization (fold)"}}}},
  {"data":{"name":"reg"},"mark":{"type":"line","color":"#E8332A","strokeWidth":1},
   "encoding":{"x":{"field":"x","type":"quantitative","scale":{"domain":[0,510],"nice":false,"zero":false},"axis":{"orient":"top","domain":false,"ticks":false,"labels":false,"title":"h","titleAngle":0,"titleX":-5,"titleY":-47,"titleFontSize":12.5,"titleFontWeight":"bold","titleAlign":"left","titleBaseline":"alphabetic"}},
    "y":{"field":"y","type":"quantitative","scale":{"domain":[-20,196],"nice":false,"zero":false},"axis":{"orient":"right","domain":false,"ticks":false,"labels":false,"title":"n = 34","titleAngle":0,"titleX":-130,"titleY":16,"titleFontSize":7.5,"titleAlign":"left","titleBaseline":"alphabetic"}}}}
 ]}
],
"columns":3,
"spacing":{"row":139,"column":64},
"bounds":"flush",
"align":"none",
"resolve":{"scale":{"xOffset":"independent"}}
}
